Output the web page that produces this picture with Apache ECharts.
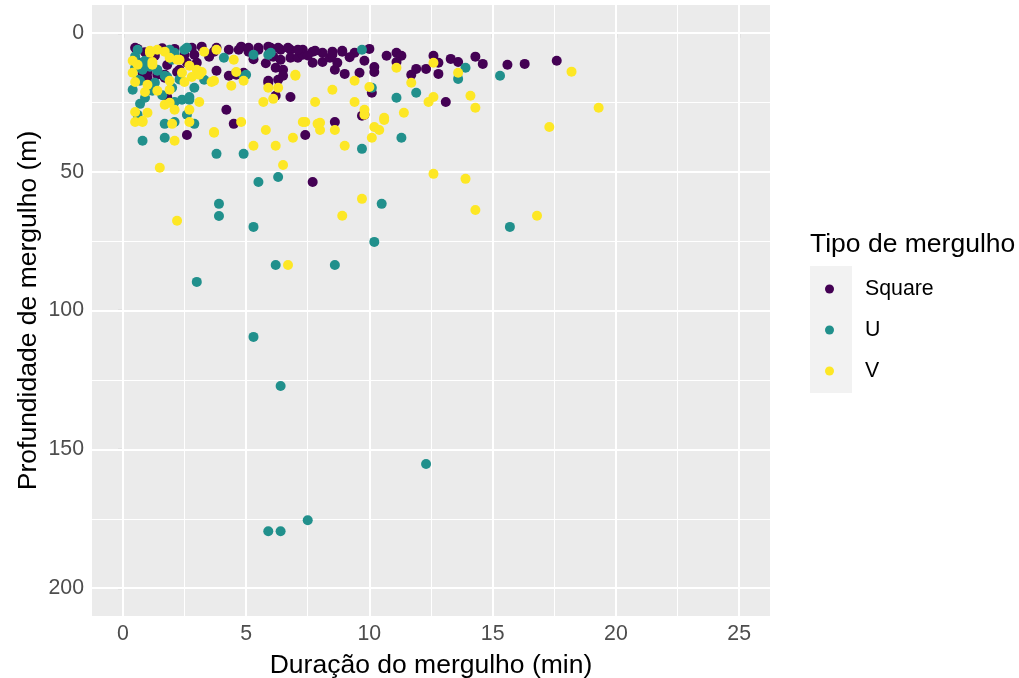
<!DOCTYPE html>
<html>
<head>
<meta charset="utf-8">
<script src="https://cdn.jsdelivr.net/npm/echarts@6/dist/echarts.min.js"></script>
<style>
html,body{margin:0;padding:0;background:#fff;}
#chart{width:1019px;height:678px;}
</style>
</head>
<body>
<div id="chart"></div>
<script>
// ---- data (duration min, depth m) ----
const seriesNames = ['Square', 'U', 'V'];
const seriesColors = ['#440154', '#21908C', '#FDE725'];

const squareData = [
[0.6,5.8],[2.8,5.4],[2.9,7.9],[4.3,6.1],[4.7,6.1],[5.1,6.8],[5.5,6.1],[6.0,5.4],[6.4,6.1],[6.8,6.1],
[7.3,6.1],[7.7,6.8],[8.1,7.2],[8.5,6.8],[8.9,6.8],[9.4,7.2],[10.0,5.8],[10.7,8.3],[11.1,7.2],[11.3,8.3],
[11.1,10.5],[12.6,8.3],[12.8,10.8],[13.3,9.4],[13.6,10.5],[14.3,8.6],[14.6,11.2],[15.6,11.5],[16.3,11.2],[17.6,10.1],
[12.8,14.8],[12.3,13],[11.9,13],[11.7,15.1],[9.8,10.1],[10.2,12.3],[10.2,14.1],[9.6,14.4],[9.0,14.8],[8.6,13.3],
[6.1,8.6],[6.4,9.7],[6.2,12.6],[6.5,13.3],[6.8,9.0],[7.1,9.0],[7.3,7.9],[7.7,10.8],[8.1,10.5],[8.4,9.0],
[8.7,10.8],[6.3,16.9],[5.9,18],[6.2,22.7],[6.8,23.1],[4.3,15.5],[3.8,13.7],[4.6,14.4],[3.0,10.8],[2.2,14.1],
[1.0,14.1],[1.8,23.1],[4.2,27.7],[4.5,32.8],[8.6,32.1],[0.6,10.5],[1.0,9.0],[1.4,15.1],[1.7,15.1],[2.6,36.8],
[7.4,36.8],[7.7,53.7],[13.1,24.9],[10.1,21.6],[9.8,29.5],[9.7,29.9],[3.2,5.0],[3.8,5.4],[4.8,5.0],[3.7,6.8],
[4.6,15.1],[4.9,14.4],[2.6,10.8],[5.1,5.4],[5.5,5.4],[5.9,5.0],[6.3,5.4],[6.7,5.4],[7.1,6.1],[7.8,6.5],
[8.5,7.9],[8.9,6.5],[6.5,15.5],[5.9,17.3],[0.5,5.4],[0.8,14.4],[1.0,16.2],[1.7,16.2],[1.3,8.3],[2.3,13.3],
[1.6,5.6],[2.1,5.8],[0.9,7.0],[1.8,11.6],[2.5,8.0],[3.5,8.6],[5.3,9.5],[5.8,11.0],[7.5,8.2],[9.2,8.8]
];

const uData = [
[5.9,179.5],[6.4,179.5],[7.5,175.5],[12.3,155.3],[6.4,127.2],[5.3,109.5],[3.0,89.7],[6.2,83.6],[8.6,83.6],[10.2,75.3],
[5.3,69.9],[15.7,69.9],[3.9,66.0],[3.9,61.6],[10.5,61.6],[6.3,51.9],[5.5,53.7],[3.8,43.6],[4.9,43.6],[9.7,41.8],
[11.3,37.8],[0.8,38.9],[1.7,37.8],[1.7,32.8],[2.1,32.1],[2.9,32.8],[15.3,15.5],[13.9,12.6],[13.6,16.6],[11.1,23.4],
[11.9,21.6],[10.1,19.8],[9.7,6.1],[0.4,20.5],[0.7,25.6],[0.6,29.5],[0.6,31.4],[2.1,24.9],[2.4,24.1],[2.7,24.1],
[2.6,29.5],[2.0,19.8],[2.9,19.8],[2.7,23.1],[1.8,15.9],[1.4,13.7],[0.8,13.3],[0.6,16.9],[0.8,10.8],[0.6,6.1],
[1.9,6.1],[2.5,6.1],[2.0,9.7],[1.2,20.5],[4.1,9.0],[4.9,15.9],[3.3,16.9],[6.0,7.2],[5.3,7.9],[0.5,12.6],
[0.9,10.1],[1.4,13.3],[1.7,15.5],[1.2,20.9],[2.1,7.2],[1.3,18.0],[0.7,17.3],[2.6,5.4],[5.0,15.1],[5.9,7.9],
[0.5,8.5],[1.1,12.2],[0.9,23.4],[1.6,22.5],[2.3,16.8]
];

const vData = [
[19.3,27.0],[18.2,14.0],[17.3,33.9],[16.8,65.9],[14.3,63.8],[13.9,52.6],[12.6,50.8],[9.7,59.8],[8.9,65.9],[6.7,83.6],
[2.2,67.7],[1.5,48.6],[6.5,47.6],[5.3,40.7],[6.2,40.7],[6.9,37.8],[9.0,40.7],[10.1,37.8],[10.2,33.9],[10.4,35.0],
[10.6,31.4],[8.0,35.0],[8.6,35.0],[5.8,35.0],[3.7,36.0],[2.1,38.9],[7.4,32.1],[8.0,32.4],[0.5,32.1],[0.8,32.1],
[2.0,32.8],[2.7,32.1],[4.8,32.1],[14.3,27.0],[14.1,22.7],[12.6,23.1],[12.4,24.9],[11.7,18.0],[12.6,10.8],[13.6,14.4],
[11.1,12.6],[10.0,19.5],[9.4,17.3],[9.4,24.9],[9.8,27.7],[9.8,29.5],[10.6,30.6],[11.4,28.8],[8.5,20.5],[0.5,28.5],
[1.0,28.8],[0.8,31.7],[1.7,25.9],[2.1,27.7],[2.7,27.7],[3.1,24.9],[3.7,35.7],[5.7,24.9],[6.1,23.8],[7.8,24.9],
[3.3,6.8],[3.8,6.1],[2.8,15.9],[3.2,14.1],[3.6,17.7],[4.4,19.1],[4.6,14.1],[4.5,9.7],[5.9,19.8],[6.3,19.8],
[7.0,15.1],[1.4,6.1],[1.7,6.8],[1.1,7.2],[1.2,10.5],[2.3,9.7],[2.5,17.7],[1.9,20.5],[1.9,25.2],[3.0,13.3],
[0.5,17.7],[0.6,11.5],[0.9,21.3],[2.4,14.4],[3.1,15.1],[2.7,11.9],[3.7,17.3],[4.9,17.3],[7.0,15.5],[1.1,6.5],
[1.9,9.0],[2.2,9.7],[0.4,10.1],[1.2,11.5],[0.4,14.4],[1.0,18.7],[1.9,17.3],[1.4,20.9],[7.3,32.1],[7.9,32.8]
];

// ---- axis ticks ----
const xTicks = [0, 5, 10, 15, 20, 25];
const xMinor = [2.5, 7.5, 12.5, 17.5, 22.5];
const yTicks = [0, 50, 100, 150, 200];
const yMinor = [25, 75, 125, 175];

const xTitle = 'Duração do mergulho (min)';
const yTitle = 'Profundidade de mergulho (m)';
const legendTitle = 'Tipo de mergulho';

const FONT = '"Liberation Sans", Arial, sans-serif';

const gridLines = [];
xTicks.forEach(v => gridLines.push({xAxis: v, lineStyle: {width: 2}}));
xMinor.forEach(v => gridLines.push({xAxis: v, lineStyle: {width: 1}}));
yTicks.forEach(v => gridLines.push({yAxis: v, lineStyle: {width: 2}}));
yMinor.forEach(v => gridLines.push({yAxis: v, lineStyle: {width: 1}}));

const chart = echarts.init(document.getElementById('chart'), null, {renderer: 'canvas'});

const pointSeries = [squareData, uData, vData].map((d, i) => ({
  name: seriesNames[i],
  type: 'scatter',
  data: d,
  symbol: 'circle',
  symbolSize: 10,
  itemStyle: {color: seriesColors[i], opacity: 1, borderWidth: 0},
  emphasis: {disabled: true},
  z: 20
}));

chart.setOption({
  animation: false,
  backgroundColor: '#ffffff',
  textStyle: {fontFamily: FONT},
  title: {
    text: legendTitle,
    left: 810,
    top: 231,
    padding: 0,
    textStyle: {fontSize: 26.5, fontWeight: 'normal', color: '#000', fontFamily: FONT}
  },
  graphic: [{
    type: 'rect',
    shape: {x: 810, y: 266, width: 42, height: 127},
    style: {fill: '#F2F2F2'},
    z: -1
  }],
  legend: {
    data: seriesNames,
    orient: 'vertical',
    left: 825,
    top: 277,
    padding: 0,
    itemWidth: 9,
    itemHeight: 9,
    itemGap: 17,
    icon: 'circle',
    selectedMode: false,
    textStyle: {fontSize: 21.3, lineHeight: 24, color: '#000', fontFamily: FONT, padding: [0, 0, 0, 26]}
  },
  grid: {
    left: 92, right: 249, top: 5, bottom: 62,
    outerBoundsMode: 'none',
    containLabel: false,
    show: true, backgroundColor: '#EBEBEB', borderWidth: 0
  },
  xAxis: {
    type: 'value',
    min: -1.25,
    max: 26.25,
    splitLine: {show: false},
    axisLine: {show: false},
    axisTick: {show: true, customValues: xTicks, length: 5, lineStyle: {color: '#333333', width: 1.1}},
    axisLabel: {customValues: xTicks, fontSize: 21.3, color: '#4D4D4D', margin: 8, fontFamily: FONT},
    name: xTitle,
    nameLocation: 'middle',
    nameGap: 36,
    nameMoveOverlap: false,
    nameTextStyle: {fontSize: 26.5, color: '#000', fontFamily: FONT}
  },
  yAxis: {
    type: 'value',
    inverse: true,
    min: -10,
    max: 210,
    splitLine: {show: false},
    axisLine: {show: false},
    axisTick: {show: true, customValues: yTicks, length: 5, lineStyle: {color: '#333333', width: 1.1}},
    axisLabel: {customValues: yTicks, fontSize: 21.3, color: '#4D4D4D', margin: 8, fontFamily: FONT},
    name: yTitle,
    nameLocation: 'middle',
    nameGap: 50,
    nameMoveOverlap: false,
    nameTextStyle: {fontSize: 26.5, color: '#000', fontFamily: FONT}
  },
  series: [{
    type: 'scatter',
    data: [],
    silent: true,
    z: 1,
    markLine: {
      z: 1,
      silent: true,
      symbol: ['none', 'none'],
      label: {show: false},
      lineStyle: {color: '#FFFFFF', type: 'solid'},
      emphasis: {disabled: true},
      animation: false,
      data: gridLines
    }
  }].concat(pointSeries)
});
</script>
</body>
</html>
